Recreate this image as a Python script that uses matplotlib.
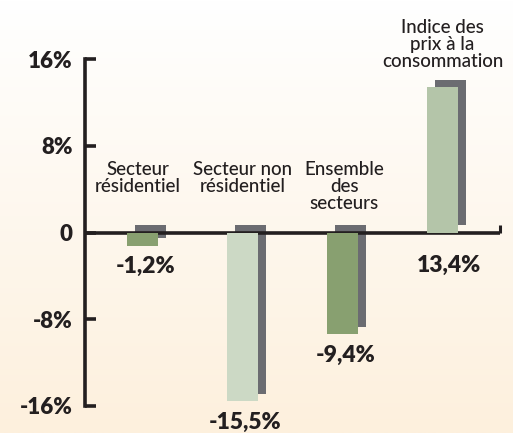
import matplotlib
matplotlib.use("Agg")
import matplotlib.pyplot as plt
import numpy as np

categories = ["Secteur\nrésidentiel", "Secteur non\nrésidentiel", "Ensemble\ndes\nsecteurs",
              "Indice des\nprix à la\nconsommation"]
values = [-1.2, -15.5, -9.4, 13.4]
value_labels = ["-1,2%", "-15,5%", "-9,4%", "13,4%"]
yticks = [-16, -8, 0, 8, 16]
ytick_labels = ["-16%", "-8%", "0", "8%", "16%"]

bar_colors = ["#88a070", "#ccd9c5", "#88a070", "#b4c5a9"]
shadow_color = "#6b6c71"
text_color = "#231f20"

plt.rcParams["font.family"] = ["Lato", "DejaVu Sans"]

W, H = 513, 433
fig = plt.figure(figsize=(W / 100, H / 100), dpi=100)

# background gradient
bg = fig.add_axes([0, 0, 1, 1], zorder=-10)
top = np.array([1.0, 1.0, 1.0])
bot = np.array([253, 240, 221]) / 255
t = np.linspace(0, 1, 256)[:, None]
grad = top * (1 - t) + bot * t
bg.imshow(grad[:, None, :], aspect="auto", extent=[0, 1, 0, 1])
bg.axis("off")

left_px, right_px = 85, 500
top_px, bot_px = 59, 406
ax = fig.add_axes([left_px / W, (H - bot_px) / H, (right_px - left_px) / W, (bot_px - top_px) / H])
ax.patch.set_alpha(0)
ax.set_ylim(-16, 16)
ax.set_xlim(-0.575, 3.575)

x = np.arange(len(values))
bw = 0.31
dx = 0.08
dy = 0.65
ax.bar(x + dx, values, width=bw, bottom=dy, color=shadow_color, zorder=2)
ax.bar(x, values, width=bw, color=bar_colors, zorder=4)

# zero line with end tick
ax.axhline(0, color=text_color, lw=2.6, zorder=3)
ax.plot([1, 1], [0, 0.7], transform=ax.get_yaxis_transform(), color=text_color, lw=2.2,
        zorder=3, clip_on=False, solid_capstyle="butt")

for s in ["top", "right", "bottom"]:
    ax.spines[s].set_visible(False)
ax.spines["left"].set_linewidth(2.6)
ax.spines["left"].set_color(text_color)
ax.set_xticks([])
ax.set_yticks(yticks)
ax.set_yticklabels(ytick_labels, fontsize=16, fontweight="heavy", color=text_color)
ax.tick_params(axis="y", direction="in", length=8, width=2.6, color=text_color, pad=9)

# category labels (small horizontal nudges for layout)
label_dx = [-0.05, 0.0, 0.02, 0.0]
for i, (c, v) in enumerate(zip(categories, values)):
    if v < 0:
        ax.text(i + label_dx[i], 6.6, c, ha="center", va="top", fontsize=13.5, color=text_color,
                fontweight="medium", linespacing=1.0, clip_on=False)
    else:
        ax.text(i + label_dx[i], v + dy + 0.9, c, ha="center", va="bottom", fontsize=13.5,
                fontweight="medium", color=text_color, linespacing=1.0, clip_on=False)

# value labels
for i, (lab, v) in enumerate(zip(value_labels, values)):
    if v < 0:
        ax.text(i + 0.03, v - 1.0, lab, ha="center", va="top", fontsize=16.5,
                fontweight="heavy", color=text_color, clip_on=False)
    else:
        ax.text(i + 0.07, -2.1, lab, ha="center", va="top", fontsize=16.5,
                fontweight="heavy", color=text_color, clip_on=False)

fig.savefig("out.png", dpi=100)
